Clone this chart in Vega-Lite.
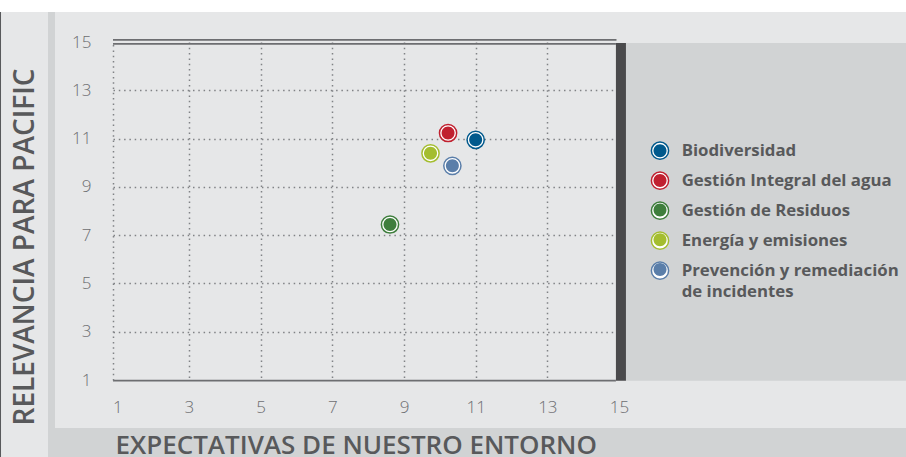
{
  "$schema": "https://vega.github.io/schema/vega-lite/v6.json",
  "width": 506,
  "height": 338,
  "autosize": {"type": "none"},
  "padding": {"left": 113, "top": 42, "right": 287, "bottom": 77},
  "background": "#e6e7e8",
  "config": {"view": {"stroke": null}, "style": {"guide-label": {"lineHeight": 21.5}}},
  "data": {
    "values": [
      {"cat": "Biodiversidad", "orden": 1, "expectativas": 11.0, "relevancia": 10.95},
      {"cat": "Gestión Integral del agua", "orden": 2, "expectativas": 10.23, "relevancia": 11.23},
      {"cat": "Gestión de Residuos", "orden": 3, "expectativas": 8.61, "relevancia": 7.44},
      {"cat": "Energía y emisiones", "orden": 4, "expectativas": 9.74, "relevancia": 10.39},
      {"cat": "Prevención y remediación de incidentes", "orden": 5, "expectativas": 10.35, "relevancia": 9.87}
    ]
  },
  "layer": [
    {
      "data": {"values": [{}]},
      "mark": {"type": "rect", "color": "#ffffff", "clip": false},
      "encoding": {
        "x": {"datum": -3, "type": "quantitative", "scale": {"domain": [0.88, 15.0], "nice": false, "zero": false}, "axis": null},
        "x2": {"datum": 24},
        "y": {"datum": 16.24, "type": "quantitative", "scale": {"domain": [1, 15], "nice": false, "zero": false}, "axis": null},
        "y2": {"datum": 17}
      }
    },
    {
      "data": {"values": [{}]},
      "mark": {"type": "rect", "color": "#58595b", "clip": false},
      "encoding": {
        "x": {"datum": -3, "type": "quantitative", "axis": null},
        "x2": {"datum": -2.245},
        "y": {"datum": -3, "type": "quantitative", "axis": null},
        "y2": {"datum": 16.24}
      }
    },
    {
      "data": {"values": [{}]},
      "mark": {"type": "rect", "color": "#d1d3d4", "clip": false},
      "encoding": {
        "x": {"datum": -0.934, "type": "quantitative", "axis": null},
        "x2": {"datum": -0.738},
        "y": {"datum": -0.99, "type": "quantitative", "axis": null},
        "y2": {"datum": 16.24}
      }
    },
    {
      "data": {"values": [{}]},
      "mark": {"type": "rect", "color": "#d1d3d4", "clip": false},
      "encoding": {
        "x": {
          "datum": -0.934, "type": "quantitative",
          "scale": {"domain": [0.88, 15.0], "nice": false, "zero": false},
          "axis": {
            "orient": "bottom", "values": [1, 3, 5, 7, 9, 11, 13, 15], "grid": false,
            "ticks": false, "tickSize": 0, "domain": false,
            "labelFont": "Open Sans", "labelFontSize": 17, "labelFontWeight": 300, "labelColor": "#6d6e71",
            "labelPadding": 19, "labelBaseline": "top", "labelFlush": false, "labelOverlap": false,
            "title": "EXPECTATIVAS DE NUESTRO ENTORNO", "titleFont": "Open Sans", "titleFontSize": 26,
            "titleFontWeight": 600, "titleColor": "#58595b", "titleX": 2, "titleY": 73,
            "titleAlign": "left", "titleBaseline": "alphabetic", "zindex": 1
          }
        },
        "x2": {"datum": 24},
        "y": {
          "datum": -3, "type": "quantitative",
          "scale": {"domain": [1, 15], "nice": false, "zero": false},
          "axis": {
            "orient": "left", "values": [1, 3, 5, 7, 9, 11, 13, 15], "grid": false,
            "ticks": false, "tickSize": 0, "domain": true, "domainColor": "#808285", "domainWidth": 1.5,
            "domainDash": [1.5, 3.8],
            "labelFont": "Open Sans", "labelFontSize": 17, "labelFontWeight": 300, "labelColor": "#6d6e71",
            "labelPadding": 22, "labelFlush": false, "labelOverlap": false,
            "title": "RELEVANCIA PARA PACIFIC", "titleFont": "Open Sans", "titleFontSize": 28,
            "titleFontWeight": 600, "titleColor": "#58595b", "titleX": -79.7, "titleY": 204.5,
            "titleAngle": -90, "titleAlign": "center", "titleBaseline": "alphabetic", "zindex": 1
          }
        },
        "y2": {"datum": -0.99}
      }
    },
    {
      "data": {"values": [{}]},
      "mark": {"type": "rect", "color": "#d1d3d4", "clip": false},
      "encoding": {
        "x": {"datum": 15.194, "type": "quantitative", "axis": null},
        "x2": {"datum": 24},
        "y": {"datum": 0.97, "type": "quantitative", "axis": null},
        "y2": {"datum": 14.96}
      }
    },
    {
      "data": {"values": [{}]},
      "mark": {"type": "rect", "color": "#4a4a4c", "clip": false},
      "encoding": {
        "x": {"datum": 14.914, "type": "quantitative", "axis": null},
        "x2": {"datum": 15.194},
        "y": {"datum": 0.97, "type": "quantitative", "axis": null},
        "y2": {"datum": 14.96}
      }
    },
    {
      "data": {"values": [{}]},
      "mark": {"type": "rule", "color": "#6d6e71", "strokeWidth": 1.8, "clip": false},
      "encoding": {
        "x": {"datum": 0.88, "type": "quantitative", "axis": null},
        "x2": {"datum": 14.93},
        "y": {"datum": 15.09, "type": "quantitative", "axis": null}
      }
    },
    {
      "data": {"values": [{}]},
      "mark": {"type": "rule", "color": "#6d6e71", "strokeWidth": 1.8, "clip": false},
      "encoding": {
        "x": {"datum": 0.88, "type": "quantitative", "axis": null},
        "x2": {"datum": 14.914},
        "y": {"datum": 14.92, "type": "quantitative", "axis": null}
      }
    },
    {
      "data": {"values": [{}]},
      "mark": {"type": "rule", "color": "#6d6e71", "strokeWidth": 1.8, "clip": false},
      "encoding": {
        "x": {"datum": 0.88, "type": "quantitative", "axis": null},
        "x2": {"datum": 14.914},
        "y": {"datum": 0.97, "type": "quantitative", "axis": null}
      }
    },
    {
      "mark": {"type": "point", "shape": "circle", "size": 296, "fill": "#ffffff", "strokeWidth": 1.5, "opacity": 1},
      "encoding": {
        "x": {
          "field": "expectativas", "type": "quantitative",
          "scale": {"domain": [0.88, 15.0], "nice": false, "zero": false},
          "axis": {
            "orient": "bottom", "values": [3, 5, 7, 9, 11, 13], "grid": true, "gridColor": "#808285",
            "gridDash": [1.5, 3.8], "gridWidth": 1.5, "labels": false, "ticks": false, "domain": false,
            "title": null, "zindex": 0
          }
        },
        "y": {
          "field": "relevancia", "type": "quantitative",
          "scale": {"domain": [1, 15], "nice": false, "zero": false},
          "axis": {
            "orient": "left", "values": [3, 5, 7, 9, 11, 13], "grid": true, "gridColor": "#808285",
            "gridDash": [1.5, 3.8], "gridWidth": 1.5, "labels": false, "ticks": false, "domain": false,
            "title": null, "zindex": 0
          }
        },
        "stroke": {
          "field": "cat", "type": "nominal",
          "sort": {"field": "orden", "op": "min", "order": "ascending"},
          "scale": {"range": ["#00598c", "#c0202f", "#3e7e3c", "#a4bd2f", "#5a7ea9"]},
          "legend": {
            "orient": "none", "legendX": 537.5, "legendY": 99.2, "title": null, "padding": 0,
            "symbolType": "circle", "symbolSize": 296, "symbolStrokeWidth": 1.5, "symbolFillColor": "#ffffff",
            "labelFont": "Open Sans", "labelFontSize": 16.8, "labelFontWeight": "bold", "labelColor": "#58595b",
            "labelOffset": 12.2, "rowPadding": 5, "labelLimit": 400, "zindex": 1,
            "labelExpr": "datum.label == 'Prevención y remediación de incidentes' ? ['Prevención y remediación', 'de incidentes'] : datum.label"
          }
        }
      }
    },
    {
      "mark": {
        "type": "point",
        "shape": "M0.756,0A0.756,0.756,0,1,1,-0.756,0A0.756,0.756,0,1,1,0.756,0Z",
        "size": 296, "filled": true, "stroke": "transparent", "strokeWidth": 1.5, "opacity": 1
      },
      "encoding": {
        "x": {"field": "expectativas", "type": "quantitative", "axis": null},
        "y": {"field": "relevancia", "type": "quantitative", "axis": null},
        "fill": {
          "field": "cat", "type": "nominal",
          "scale": {
            "domain": ["Biodiversidad", "Gestión Integral del agua", "Gestión de Residuos", "Energía y emisiones", "Prevención y remediación de incidentes"],
            "range": ["#00598c", "#c0202f", "#3e7e3c", "#a4bd2f", "#5a7ea9"]
          },
          "legend": {
            "orient": "none", "legendX": 537.5, "legendY": 99.2, "title": null, "padding": 0,
            "symbolType": "M0.756,0A0.756,0.756,0,1,1,-0.756,0A0.756,0.756,0,1,1,0.756,0Z",
            "symbolSize": 296, "symbolStrokeWidth": 1.5, "symbolStrokeColor": "transparent",
            "labelFont": "Open Sans", "labelFontSize": 16.8, "labelFontWeight": "bold", "labelColor": "#58595b",
            "labelOffset": 12.2, "rowPadding": 8.7, "labelLimit": 400, "zindex": 2,
            "labelExpr": "' '"
          }
        }
      }
    }
  ],
  "resolve": {"axis": {"x": "independent", "y": "independent"}}
}
